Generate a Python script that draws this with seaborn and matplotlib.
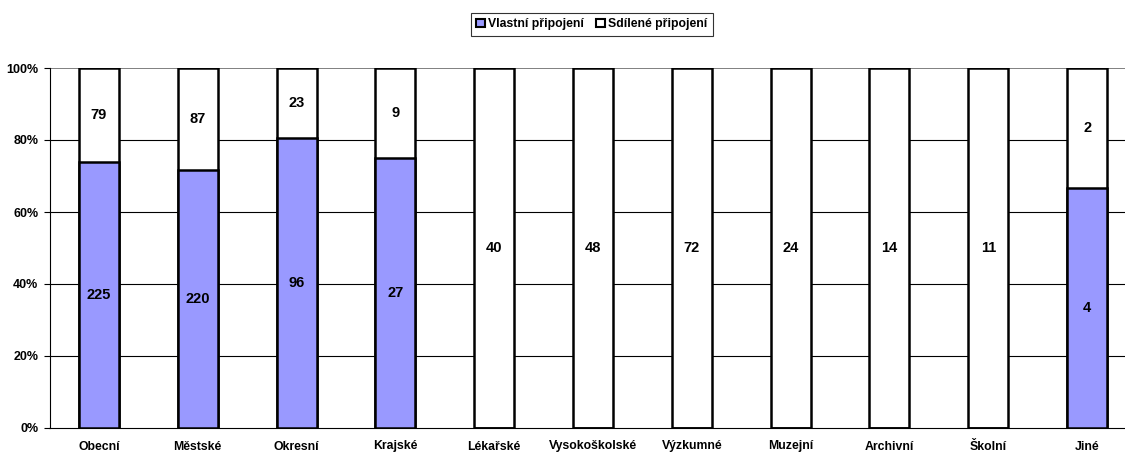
import matplotlib
matplotlib.use('Agg')
import matplotlib.pyplot as plt
import pandas as pd
import seaborn as sns
import numpy as np
from matplotlib.patches import Patch

# data
categories = ['Obecní', 'Městské', 'Okresní', 'Krajské', 'Lékařské', 'Vysokoškolské',
              'Výzkumné', 'Muzejní', 'Archivní', 'Školní', 'Jiné']
vlastni = [225, 220, 96, 27, 0, 0, 0, 0, 0, 0, 4]
sdilene = [79, 87, 23, 9, 40, 48, 72, 24, 14, 11, 2]
y_ticks = [0, 20, 40, 60, 80, 100]

df = pd.DataFrame({'kat': categories, 'vlastni': vlastni, 'sdilene': sdilene})
df['total'] = df['vlastni'] + df['sdilene']
df['pct_v'] = df['vlastni'] / df['total'] * 100
df['pct_all'] = 100.0

sns.set_style('white')
plt.rcParams['font.family'] = ['Liberation Sans', 'DejaVu Sans']
plt.rcParams['font.weight'] = 'bold'
plt.rcParams['text.color'] = 'black'
plt.rcParams['xtick.color'] = 'black'
plt.rcParams['ytick.color'] = 'black'

blue = '#9999FF'
fig = plt.figure(figsize=(11.25, 4.53), dpi=100)
# axes runs a bit past the right edge, like the original
ax = fig.add_axes([49.5 / 1125, 25 / 453, 1087 / 1125, 360 / 453])

# white (Sdílené) bar over the full height, then the blue part on top of it
sns.barplot(data=df, x='kat', y='pct_all', color='white', edgecolor='black',
            linewidth=1.8, width=0.405, saturation=1, ax=ax, zorder=2)
sns.barplot(data=df, x='kat', y='pct_v', color=blue, edgecolor='black',
            linewidth=1.8, width=0.405, saturation=1, ax=ax, zorder=3)

# value labels in the middle of each segment
for i, row in df.iterrows():
    if row['vlastni'] > 0:
        ax.text(i, row['pct_v'] / 2, str(row['vlastni']), ha='center', va='center',
                fontsize=10.5, fontweight='bold', zorder=4)
    if row['sdilene'] > 0:
        ax.text(i, (row['pct_v'] + 100) / 2, str(row['sdilene']), ha='center', va='center',
                fontsize=10.5, fontweight='bold', zorder=4)

ax.set_ylim(0, 100)
ax.set_xlim(-0.5, len(categories) - 0.5)
ax.set_yticks(y_ticks)
ax.set_yticklabels([f'{t}%' for t in y_ticks], fontsize=9, fontweight='bold')
ax.set_xticks(range(len(categories)))
ax.set_xticklabels(categories, fontsize=8.8, fontweight='bold')
ax.tick_params(axis='x', which='major', length=0, pad=9)
ax.set_xticks(np.arange(len(categories) + 1) - 0.5, minor=True)
ax.tick_params(axis='x', which='minor', length=4, width=0.8, color='black', direction='out')
ax.tick_params(axis='y', length=4, width=0.8, color='black', direction='out', left=True, pad=4)
ax.set_xlabel('')
ax.set_ylabel('')

for t in y_ticks[1:-1]:
    ax.axhline(t, color='black', linewidth=0.8, zorder=1)
ax.axhline(100, color='#808080', linewidth=1.4, zorder=1)

ax.spines['top'].set_visible(False)
ax.spines['right'].set_visible(False)
ax.spines['left'].set_color('black')
ax.spines['bottom'].set_color('black')
ax.spines['left'].set_linewidth(0.8)
ax.spines['bottom'].set_linewidth(0.8)

handles = [Patch(facecolor=blue, edgecolor='black', linewidth=1.5, label='Vlastní připojení'),
           Patch(facecolor='white', edgecolor='black', linewidth=1.5, label='Sdílené připojení')]
leg = fig.legend(handles=handles, loc='center', bbox_to_anchor=(0.526, 0.946), ncol=2,
                 frameon=True, fancybox=False, edgecolor='black', fontsize=8.8,
                 handlelength=0.7, handleheight=0.7, handletextpad=0.25, columnspacing=1.0,
                 borderpad=0.45)
leg.get_frame().set_linewidth(0.8)
for txt in leg.get_texts():
    txt.set_fontweight('bold')

fig.savefig('out.png', dpi=100)
